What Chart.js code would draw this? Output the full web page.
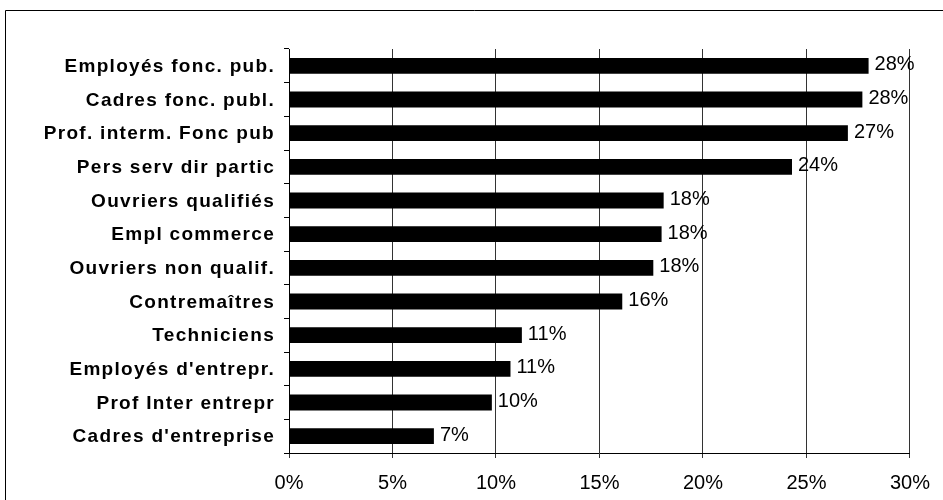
<!DOCTYPE html>
<html>
<head>
<meta charset="utf-8">
<script src="https://cdn.jsdelivr.net/npm/chart.js@4/dist/chart.umd.min.js"></script>
<style>
  html, body { margin: 0; padding: 0; background: #fff; overflow: hidden; }
  #wrap { width: 943px; height: 500px; }
</style>
</head>
<body>
<div id="wrap"><canvas id="chart" width="943" height="500"></canvas></div>
<script>
// categories, top to bottom
var categories = [
    "Employés fonc. pub.",
    "Cadres fonc. publ.",
    "Prof. interm. Fonc pub",
    "Pers serv dir partic",
    "Ouvriers qualifiés",
    "Empl commerce",
    "Ouvriers non qualif.",
    "Contremaîtres",
    "Techniciens",
    "Employés d'entrepr.",
    "Prof Inter entrepr",
    "Cadres d'entreprise"
];
// share in percent
var shares = [28.0, 27.7, 27.0, 24.3, 18.1, 18.0, 17.6, 16.1, 11.25, 10.7, 9.8, 7.0];
var xTicks = [0, 5, 10, 15, 20, 25, 30];

var FONT = "'Liberation Sans', Arial, sans-serif";

// frame round the whole chart, cut by the window on the right and bottom
var framePlugin = {
    id: "frame",
    beforeDraw: function (chart) {
        var ctx = chart.ctx;
        ctx.save();
        ctx.strokeStyle = "#000";
        ctx.lineWidth = 1;
        ctx.beginPath();
        ctx.moveTo(5.5, 600);
        ctx.lineTo(5.5, 10.5);
        ctx.lineTo(1000, 10.5);
        ctx.stroke();
        ctx.restore();
    }
};

// category names, drawn by hand to get the wide letter spacing of the original
var categoryLabels = {
    id: "categoryLabels",
    afterDraw: function (chart) {
        var ctx = chart.ctx;
        var y = chart.scales.y;
        ctx.save();
        ctx.font = "bold 19px " + FONT;
        ctx.letterSpacing = "1.3px";
        ctx.fillStyle = "#000";
        ctx.textAlign = "right";
        ctx.textBaseline = "middle";
        chart.data.labels.forEach(function (name, i) {
            ctx.fillText(name, 275, y.getPixelForValue(i) + 1);
        });
        ctx.restore();
    }
};

// value labels right of each bar
var valueLabels = {
    id: "valueLabels",
    afterDatasetsDraw: function (chart) {
        var ctx = chart.ctx;
        var meta = chart.getDatasetMeta(0);
        ctx.save();
        ctx.font = "20px " + FONT;
        ctx.fillStyle = "#000";
        ctx.textAlign = "left";
        ctx.textBaseline = "middle";
        meta.data.forEach(function (bar, i) {
            ctx.fillText(Math.round(shares[i]) + "%", bar.x + 6, bar.y - 1);
        });
        ctx.restore();
    }
};

new Chart(document.getElementById("chart"), {
    type: "bar",
    data: {
        labels: categories,
        datasets: [{
            data: shares,
            backgroundColor: "#000",
            borderWidth: 0,
            categoryPercentage: 0.94,
            barPercentage: 0.5
        }]
    },
    options: {
        indexAxis: "y",
        responsive: false,
        animation: false,
        devicePixelRatio: 1,
        layout: { padding: { left: 0, top: 49, right: 31, bottom: 0 } },
        plugins: {
            legend: { display: false },
            tooltip: { enabled: false }
        },
        scales: {
            x: {
                min: 0,
                max: 30,
                afterBuildTicks: function (scale) {
                    scale.ticks = xTicks.map(function (v) { return { value: v }; });
                },
                afterFit: function (scale) { scale.height = 47; },
                grid: {
                    color: "#333",
                    lineWidth: 1,
                    tickLength: 5,
                    drawTicks: true
                },
                border: { color: "#000", width: 1 },
                ticks: {
                    color: "#000",
                    padding: 13,
                    maxRotation: 0,
                    font: { family: FONT, size: 20 },
                    callback: function (v) { return v + "%"; }
                }
            },
            y: {
                afterFit: function (scale) { scale.width = 289; },
                grid: {
                    drawOnChartArea: false,
                    drawTicks: true,
                    tickLength: 5,
                    color: "#000",
                    offset: true
                },
                border: { color: "#000", width: 1 },
                ticks: { display: false }
            }
        }
    },
    plugins: [framePlugin, categoryLabels, valueLabels]
});
</script>
</body>
</html>
